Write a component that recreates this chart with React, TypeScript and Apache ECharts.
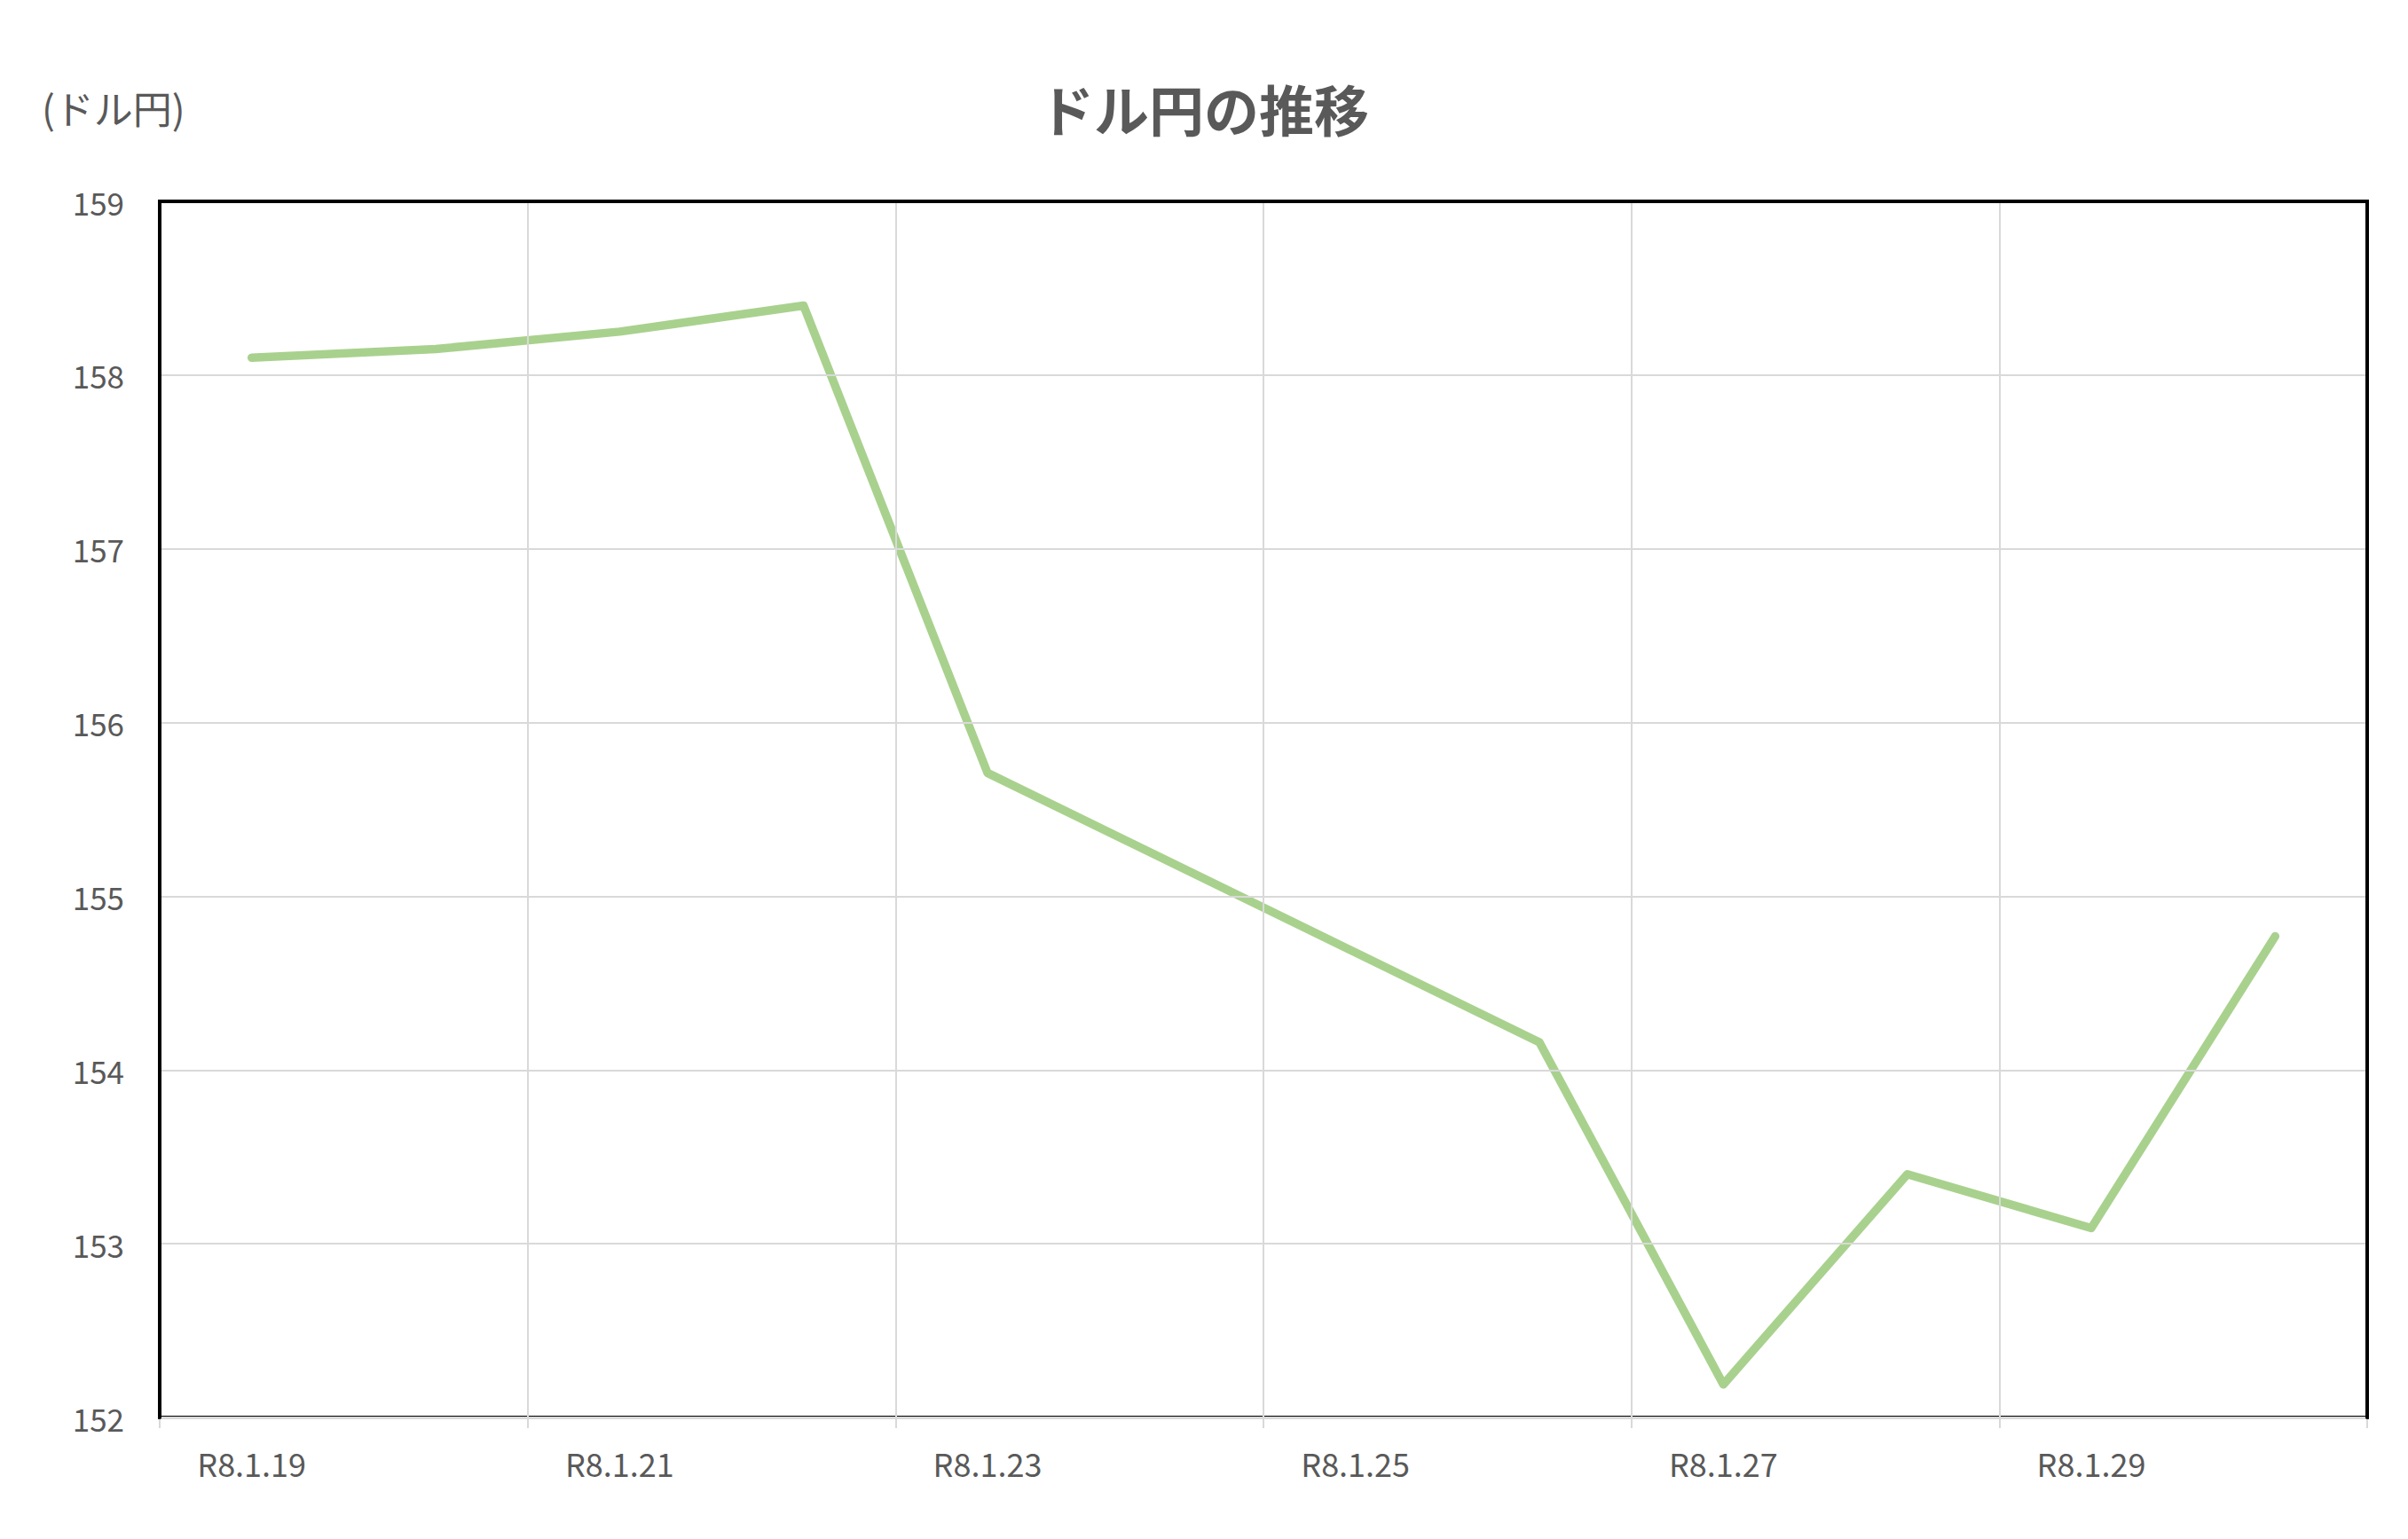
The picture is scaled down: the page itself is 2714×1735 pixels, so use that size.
import { useEffect, useRef } from 'react'
import * as echarts from 'echarts'

const DATES = [
  'R8.1.19', 'R8.1.20', 'R8.1.21', 'R8.1.22', 'R8.1.23', 'R8.1.24',
  'R8.1.25', 'R8.1.26', 'R8.1.27', 'R8.1.28', 'R8.1.29', 'R8.1.30',
]
// 土日は値なし（線はつなぐ）
const USDJPY = [158.1, 158.15, 158.25, 158.4, 155.71, null, null, 154.16, 152.19, 153.4, 153.09, 154.77]
const Y_MIN = 152
const Y_MAX = 159

const FONT = '"Noto Sans CJK JP", "Noto Sans", sans-serif'
const TEXT_COLOR = '#595959'
const GRID_COLOR = '#d9d9d9'
const FRAME = { show: true, lineStyle: { color: '#000000', width: 4 } }

export default function App() {
  const elRef = useRef<HTMLDivElement>(null)

  useEffect(() => {
    document.body.style.margin = '0'
    if (!elRef.current) return
    const chart = echarts.init(elRef.current, null, { renderer: 'svg' })
    chart.setOption({
      animation: false,
      backgroundColor: '#ffffff',
      textStyle: { fontFamily: FONT },
      graphic: [
        {
          type: 'text',
          x: 1357,
          y: 122,
          style: {
            text: 'ドル円の推移',
            fontFamily: FONT,
            fontSize: 62,
            fontWeight: 'bold',
            fill: TEXT_COLOR,
            textAlign: 'center',
            textVerticalAlign: 'middle',
          },
        },
        {
          type: 'text',
          x: 47,
          y: 121,
          style: {
            text: '(ドル円)',
            fontFamily: FONT,
            fontSize: 44,
            fill: TEXT_COLOR,
            textAlign: 'left',
            textVerticalAlign: 'middle',
          },
        },
      ],
      grid: {
        left: 180,
        right: 46,
        top: 227,
        bottom: 137,
        show: true,
        borderColor: '#000000',
        borderWidth: 4,
        backgroundColor: 'transparent',
      },
      xAxis: [
        {
          type: 'category',
          data: DATES,
          boundaryGap: true,
          axisLine: { show: true, lineStyle: { color: GRID_COLOR, width: 3 } },
          axisTick: { show: true, interval: 1, length: 12, lineStyle: { color: GRID_COLOR, width: 2 } },
          axisLabel: { interval: 1, color: TEXT_COLOR, fontSize: 36, margin: 33, fontFamily: FONT },
          splitLine: { show: true, interval: 1, lineStyle: { color: GRID_COLOR, width: 2 } },
          z: 4,
        },
        {
          type: 'category',
          data: DATES,
          position: 'top',
          axisLine: FRAME,
          axisTick: { show: false },
          axisLabel: { show: false },
          splitLine: { show: false },
          z: 6,
        },
      ],
      yAxis: [
        {
          type: 'value',
          min: Y_MIN,
          max: Y_MAX,
          interval: 1,
          axisLine: FRAME,
          axisTick: { show: false },
          axisLabel: { color: TEXT_COLOR, fontSize: 35, margin: 40, fontFamily: FONT },
          splitLine: { show: true, lineStyle: { color: GRID_COLOR, width: 2 } },
          z: 6,
        },
        {
          type: 'value',
          min: Y_MIN,
          max: Y_MAX,
          interval: 1,
          position: 'right',
          axisLine: FRAME,
          axisTick: { show: false },
          axisLabel: { show: false },
          splitLine: { show: false },
          z: 6,
        },
      ],
      series: [
        {
          type: 'line',
          data: USDJPY,
          connectNulls: true,
          showSymbol: false,
          symbol: 'none',
          lineStyle: { color: '#a9d18e', width: 9.5, cap: 'round', join: 'round' },
          z: 2,
        },
      ],
    })
    const onResize = () => chart.resize()
    window.addEventListener('resize', onResize)
    return () => {
      window.removeEventListener('resize', onResize)
      chart.dispose()
    }
  }, [])

  return <div ref={elRef} style={{ width: '100vw', height: '100vh', overflow: 'hidden' }} />
}
